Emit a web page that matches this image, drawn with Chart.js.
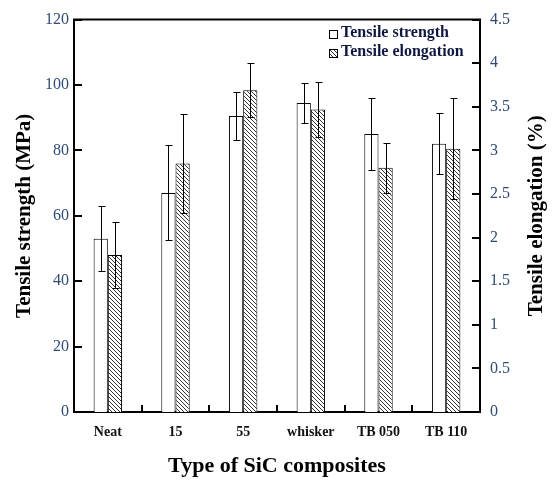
<!DOCTYPE html>
<html>
<head>
<meta charset="utf-8">
<script src="https://cdn.jsdelivr.net/npm/chart.js@4.4.0/dist/chart.umd.min.js"></script>
<style>
  html, body { margin: 0; padding: 0; background: #fff; }
</style>
</head>
<body>
<canvas id="chart" width="555" height="484"></canvas>
<script>
const categories = ["Neat", "15", "55", "whisker", "TB 050", "TB 110"];
const strength = [53, 67, 90.5, 94.5, 85, 82];
const strengthErr = [10, 14.5, 7.3, 6, 11, 9.3];
const elongation = [1.8, 2.85, 3.69, 3.47, 2.8, 3.02];
const elongationErr = [0.38, 0.57, 0.31, 0.32, 0.29, 0.58];

const serif = "'Liberation Serif', 'Times New Roman', serif";
const tickColor = '#2f4a75';
const rightTitle = 'Tensile elongation (%)';

function makeHatch() {
    const c = document.createElement('canvas');
    c.width = 4;
    c.height = 4;
    const g = c.getContext('2d');
    g.fillStyle = '#fff';
    g.fillRect(0, 0, 4, 4);
    g.strokeStyle = '#333';
    g.lineWidth = 1;
    g.beginPath();
    for (let k = -1; k <= 1; k++) {
        g.moveTo(k * 4, 0);
        g.lineTo(k * 4 + 4, 4);
    }
    g.stroke();
    return g.createPattern(c, 'repeat');
}

const hatch = makeHatch();

// error bars, inward ticks, top frame, right title and the legend box
const extras = {
    id: 'extras',
    afterDatasetsDraw(chart) {
        const ctx = chart.ctx;
        ctx.save();
        ctx.strokeStyle = '#000';
        ctx.lineWidth = 1;
        chart.data.datasets.forEach((ds, i) => {
            const meta = chart.getDatasetMeta(i);
            const scale = chart.scales[ds.yAxisID];
            meta.data.forEach((bar, j) => {
                const x = Math.round(bar.x) + 0.5;
                const hi = Math.round(scale.getPixelForValue(ds.data[j] + ds.errors[j])) + 0.5;
                const lo = Math.round(scale.getPixelForValue(ds.data[j] - ds.errors[j])) + 0.5;
                ctx.beginPath();
                ctx.moveTo(x, hi); ctx.lineTo(x, lo);
                ctx.moveTo(x - 3, hi); ctx.lineTo(x + 4, hi);
                ctx.moveTo(x - 3, lo); ctx.lineTo(x + 4, lo);
                ctx.stroke();
            });
        });
        ctx.restore();
    },
    afterDraw(chart) {
        const ctx = chart.ctx;
        const area = chart.chartArea;
        const yl = chart.scales.y;
        const yr = chart.scales.y1;
        const xs = chart.scales.x;

        ctx.save();
        ctx.strokeStyle = '#000';
        ctx.lineWidth = 2;
        ctx.beginPath();
        ctx.moveTo(area.left - 1, area.top);
        ctx.lineTo(area.right + 1, area.top);
        ctx.stroke();

        ctx.beginPath();
        yl.ticks.forEach(t => {
            const y = Math.round(yl.getPixelForValue(t.value));
            ctx.moveTo(area.left, y);
            ctx.lineTo(area.left + 8, y);
        });
        yr.ticks.forEach(t => {
            const y = Math.round(yr.getPixelForValue(t.value));
            ctx.moveTo(area.right, y);
            ctx.lineTo(area.right - 8, y);
        });
        for (let j = 0; j < categories.length - 1; j++) {
            const x = Math.round((xs.getPixelForValue(j) + xs.getPixelForValue(j + 1)) / 2);
            ctx.moveTo(x, area.bottom);
            ctx.lineTo(x, area.bottom - 7);
        }
        ctx.stroke();

        // right title reads bottom to top, like the left one
        ctx.save();
        ctx.translate(537, (area.top + area.bottom) / 2);
        ctx.rotate(-Math.PI / 2);
        ctx.font = 'bold 21px ' + serif;
        ctx.fillStyle = '#000';
        ctx.textAlign = 'center';
        ctx.textBaseline = 'middle';
        ctx.fillText(rightTitle, 0, 0);
        ctx.restore();

        // legend
        ctx.font = 'bold 16px ' + serif;
        ctx.textBaseline = 'middle';
        ctx.textAlign = 'left';
        chart.data.datasets.forEach((ds, i) => {
            const y = 33 + i * 19;
            ctx.fillStyle = ds.backgroundColor;
            ctx.fillRect(329, y - 3, 8, 8);
            ctx.lineWidth = 1;
            ctx.strokeRect(329.5, y - 2.5, 8, 8);
            ctx.fillStyle = '#101840';
            ctx.fillText(ds.label, 341, y);
        });
        ctx.restore();
    }
};

new Chart(document.getElementById('chart'), {
    type: 'bar',
    data: {
        labels: categories,
        datasets: [{
            label: 'Tensile strength',
            data: strength,
            errors: strengthErr,
            yAxisID: 'y',
            backgroundColor: '#fff',
            borderColor: '#000',
            borderWidth: 1,
            categoryPercentage: 0.42,
            barPercentage: 1.0
        }, {
            label: 'Tensile elongation',
            data: elongation,
            errors: elongationErr,
            yAxisID: 'y1',
            backgroundColor: hatch,
            borderColor: '#000',
            borderWidth: 1,
            categoryPercentage: 0.42,
            barPercentage: 1.0
        }]
    },
    options: {
        responsive: false,
        animation: false,
        devicePixelRatio: 1,
        layout: { padding: { top: 17, left: 0, right: 0, bottom: 0 } },
        plugins: {
            legend: { display: false },
            tooltip: { enabled: false }
        },
        scales: {
            x: {
                grid: { display: false, drawTicks: false },
                border: { display: true, color: '#000', width: 2 },
                ticks: {
                    color: '#111',
                    padding: 12,
                    font: { family: serif, size: 14, weight: 'bold' }
                },
                title: {
                    display: true,
                    text: 'Type of SiC composites',
                    color: '#000',
                    padding: { top: 0, bottom: 4 },
                    font: { family: serif, size: 22, weight: 'bold' }
                },
                afterFit(scale) { scale.height = 72; }
            },
            y: {
                position: 'left',
                min: 0,
                max: 120,
                grid: { display: false, drawTicks: false },
                border: { display: true, color: '#000', width: 2 },
                ticks: {
                    stepSize: 20,
                    color: tickColor,
                    padding: 5,
                    font: { family: serif, size: 16 }
                },
                title: {
                    display: true,
                    text: 'Tensile strength (MPa)',
                    color: '#000',
                    padding: { top: 12, bottom: 0 },
                    font: { family: serif, size: 21, weight: 'bold' }
                },
                afterFit(scale) { scale.width = 74; }
            },
            y1: {
                position: 'right',
                min: 0,
                max: 4.5,
                grid: { display: false, drawTicks: false },
                border: { display: true, color: '#000', width: 2 },
                ticks: {
                    stepSize: 0.5,
                    color: tickColor,
                    padding: 10,
                    font: { family: serif, size: 16 },
                    callback: (v) => String(v)
                },
                afterFit(scale) { scale.width = 75; }
            }
        }
    },
    plugins: [extras]
});
</script>
</body>
</html>
